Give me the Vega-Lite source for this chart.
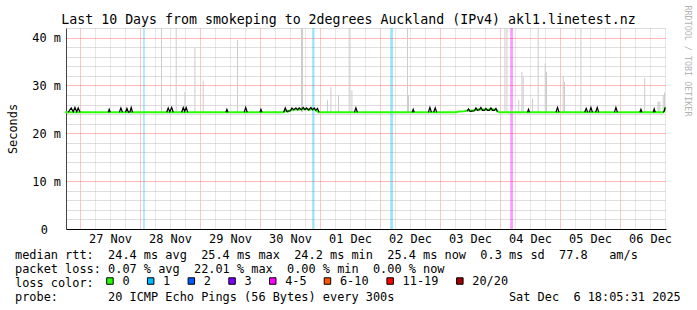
{
  "$schema": "https://vega.github.io/schema/vega-lite/v6.json",
  "autosize": "none",
  "width": 600,
  "height": 201,
  "padding": {"left": 66, "top": 28, "right": 31, "bottom": 81},
  "background": "#ffffff",
  "config": {"view": {"stroke": null}, "font": "DejaVu Sans Mono"},
  "title": {
    "text": "Last 10 Days from smokeping to 2degrees Auckland (IPv4) akl1.linetest.nz",
    "font": "DejaVu Sans Mono", "fontSize": 13.25, "fontWeight": "normal", "color": "#000000",
    "anchor": "middle", "frame": "bounds", "baseline": "alphabetic", "offset": 4, "dy": 36
  },
  "datasets": {
    "bands": [
      {"t": "2025-11-28T01:17:00Z", "t1": "2025-11-28T01:53:00Z", "loss": "1"},
      {"t": "2025-11-30T20:53:00Z", "t1": "2025-11-30T21:48:00Z", "loss": "1"},
      {"t": "2025-12-02T04:05:00Z", "t1": "2025-12-02T05:10:00Z", "loss": "1"},
      {"t": "2025-12-04T04:05:00Z", "t1": "2025-12-04T05:10:00Z", "loss": "4-5"}
    ],
    "smoke": [
      {"t": "2025-11-28T08:36:00Z", "lo": 24.4, "hi": 42},
      {"t": "2025-11-28T14:29:00Z", "lo": 24.4, "hi": 42},
      {"t": "2025-11-28T17:58:00Z", "lo": 24.4, "hi": 28.6},
      {"t": "2025-11-28T21:58:00Z", "lo": 24.4, "hi": 38},
      {"t": "2025-11-29T01:17:00Z", "lo": 24.4, "hi": 31},
      {"t": "2025-11-29T15:00:00Z", "lo": 24.4, "hi": 39.5},
      {"t": "2025-11-30T16:36:00Z", "lo": 24.4, "hi": 42},
      {"t": "2025-11-30T17:00:00Z", "lo": 24.4, "hi": 42},
      {"t": "2025-12-01T03:00:00Z", "lo": 24.4, "hi": 27},
      {"t": "2025-12-01T04:22:00Z", "lo": 24.4, "hi": 29.6},
      {"t": "2025-12-01T07:24:00Z", "lo": 24.4, "hi": 28},
      {"t": "2025-12-01T11:41:00Z", "lo": 24.4, "hi": 42},
      {"t": "2025-12-01T12:46:00Z", "lo": 24.4, "hi": 29},
      {"t": "2025-12-02T11:00:00Z", "lo": 24.4, "hi": 42},
      {"t": "2025-12-02T11:24:00Z", "lo": 24.4, "hi": 28},
      {"t": "2025-12-04T01:58:00Z", "lo": 24.4, "hi": 42},
      {"t": "2025-12-04T02:46:00Z", "lo": 24.4, "hi": 42},
      {"t": "2025-12-04T07:29:00Z", "lo": 24.4, "hi": 27},
      {"t": "2025-12-04T08:46:00Z", "lo": 24.4, "hi": 32.8},
      {"t": "2025-12-04T09:17:00Z", "lo": 24.4, "hi": 31.8},
      {"t": "2025-12-04T13:00:00Z", "lo": 24.4, "hi": 27.3},
      {"t": "2025-12-04T15:17:00Z", "lo": 24.4, "hi": 42},
      {"t": "2025-12-04T18:05:00Z", "lo": 24.4, "hi": 34.6},
      {"t": "2025-12-04T18:36:00Z", "lo": 24.4, "hi": 32.8},
      {"t": "2025-12-05T01:17:00Z", "lo": 24.4, "hi": 32},
      {"t": "2025-12-05T01:48:00Z", "lo": 24.4, "hi": 30.7},
      {"t": "2025-12-05T08:22:00Z", "lo": 24.4, "hi": 42},
      {"t": "2025-12-06T09:53:00Z", "lo": 24.4, "hi": 31.5},
      {"t": "2025-12-06T15:10:00Z", "lo": 24.4, "hi": 26.6},
      {"t": "2025-12-06T15:34:00Z", "lo": 24.4, "hi": 26.6},
      {"t": "2025-12-06T15:58:00Z", "lo": 24.4, "hi": 26.6},
      {"t": "2025-12-06T17:17:00Z", "lo": 24.4, "hi": 28},
      {"t": "2025-12-06T17:48:00Z", "lo": 24.4, "hi": 28.5}
    ],
    "median": [
      {"t": "2025-11-26T18:05:00Z", "v": 24.4},
      {"t": "2025-11-30T09:29:00Z", "v": 24.4},
      {"t": "2025-11-30T10:05:00Z", "v": 24.8},
      {"t": "2025-11-30T11:00:00Z", "v": 24.5},
      {"t": "2025-11-30T12:46:00Z", "v": 24.9},
      {"t": "2025-11-30T14:22:00Z", "v": 25.0},
      {"t": "2025-11-30T15:41:00Z", "v": 24.9},
      {"t": "2025-11-30T16:30:00Z", "v": 25.1},
      {"t": "2025-11-30T17:17:00Z", "v": 25.0},
      {"t": "2025-11-30T18:36:00Z", "v": 25.1},
      {"t": "2025-11-30T19:30:00Z", "v": 24.9},
      {"t": "2025-11-30T20:22:00Z", "v": 25.0},
      {"t": "2025-11-30T21:41:00Z", "v": 25.0},
      {"t": "2025-11-30T22:20:00Z", "v": 24.8},
      {"t": "2025-11-30T23:36:00Z", "v": 24.4},
      {"t": "2025-12-03T06:22:00Z", "v": 24.4},
      {"t": "2025-12-03T07:30:00Z", "v": 24.55},
      {"t": "2025-12-03T09:41:00Z", "v": 24.6},
      {"t": "2025-12-03T11:24:00Z", "v": 24.8},
      {"t": "2025-12-03T13:00:00Z", "v": 24.7},
      {"t": "2025-12-03T14:22:00Z", "v": 24.9},
      {"t": "2025-12-03T16:22:00Z", "v": 25.0},
      {"t": "2025-12-03T18:22:00Z", "v": 24.9},
      {"t": "2025-12-03T20:22:00Z", "v": 25.0},
      {"t": "2025-12-03T22:22:00Z", "v": 24.9},
      {"t": "2025-12-03T23:41:00Z", "v": 24.4},
      {"t": "2025-12-06T17:17:00Z", "v": 24.4},
      {"t": "2025-12-06T17:41:00Z", "v": 24.6},
      {"t": "2025-12-06T18:05:00Z", "v": 25.4}
    ],
    "dark": [
      {"g": 1, "t": "2025-11-26T19:17:00Z", "v": 24.4},
      {"g": 1, "t": "2025-11-26T20:29:00Z", "v": 25.3},
      {"g": 1, "t": "2025-11-26T21:17:00Z", "v": 24.5},
      {"g": 1, "t": "2025-11-26T21:58:00Z", "v": 25.4},
      {"g": 1, "t": "2025-11-26T22:41:00Z", "v": 24.5},
      {"g": 1, "t": "2025-11-26T23:17:00Z", "v": 25.3},
      {"g": 1, "t": "2025-11-27T00:00:00Z", "v": 24.4},
      {"g": 2, "t": "2025-11-27T11:17:00Z", "v": 24.4},
      {"g": 2, "t": "2025-11-27T11:41:00Z", "v": 25.0},
      {"g": 2, "t": "2025-11-27T12:05:00Z", "v": 24.4},
      {"g": 3, "t": "2025-11-27T15:44:00Z", "v": 24.4},
      {"g": 3, "t": "2025-11-27T16:22:00Z", "v": 25.3},
      {"g": 3, "t": "2025-11-27T17:00:00Z", "v": 24.4},
      {"g": 4, "t": "2025-11-27T18:10:00Z", "v": 24.4},
      {"g": 4, "t": "2025-11-27T18:46:00Z", "v": 25.2},
      {"g": 4, "t": "2025-11-27T19:25:00Z", "v": 24.4},
      {"g": 4, "t": "2025-11-27T20:00:00Z", "v": 24.5},
      {"g": 4, "t": "2025-11-27T20:29:00Z", "v": 25.4},
      {"g": 4, "t": "2025-11-27T21:00:00Z", "v": 24.4},
      {"g": 5, "t": "2025-11-28T10:41:00Z", "v": 24.4},
      {"g": 5, "t": "2025-11-28T11:17:00Z", "v": 25.3},
      {"g": 5, "t": "2025-11-28T11:55:00Z", "v": 24.5},
      {"g": 5, "t": "2025-11-28T12:41:00Z", "v": 25.4},
      {"g": 5, "t": "2025-11-28T13:17:00Z", "v": 24.4},
      {"g": 6, "t": "2025-11-28T16:41:00Z", "v": 24.4},
      {"g": 6, "t": "2025-11-28T17:17:00Z", "v": 25.4},
      {"g": 6, "t": "2025-11-28T17:53:00Z", "v": 24.6},
      {"g": 6, "t": "2025-11-28T18:29:00Z", "v": 25.4},
      {"g": 6, "t": "2025-11-28T19:05:00Z", "v": 24.4},
      {"g": 7, "t": "2025-11-29T10:22:00Z", "v": 24.4},
      {"g": 7, "t": "2025-11-29T10:46:00Z", "v": 25.0},
      {"g": 7, "t": "2025-11-29T11:10:00Z", "v": 24.4},
      {"g": 8, "t": "2025-11-29T17:41:00Z", "v": 24.4},
      {"g": 8, "t": "2025-11-29T18:17:00Z", "v": 25.4},
      {"g": 8, "t": "2025-11-29T18:53:00Z", "v": 24.4},
      {"g": 9, "t": "2025-11-30T00:00:00Z", "v": 24.4},
      {"g": 9, "t": "2025-11-30T00:22:00Z", "v": 25.0},
      {"g": 9, "t": "2025-11-30T00:46:00Z", "v": 24.4},
      {"g": 10, "t": "2025-11-30T09:29:00Z", "v": 24.4},
      {"g": 10, "t": "2025-11-30T10:05:00Z", "v": 25.3},
      {"g": 10, "t": "2025-11-30T10:41:00Z", "v": 24.6},
      {"g": 10, "t": "2025-11-30T12:10:00Z", "v": 24.7},
      {"g": 10, "t": "2025-11-30T12:46:00Z", "v": 25.3},
      {"g": 10, "t": "2025-11-30T13:30:00Z", "v": 24.9},
      {"g": 10, "t": "2025-11-30T14:22:00Z", "v": 25.3},
      {"g": 10, "t": "2025-11-30T15:00:00Z", "v": 24.9},
      {"g": 10, "t": "2025-11-30T15:41:00Z", "v": 25.3},
      {"g": 10, "t": "2025-11-30T16:30:00Z", "v": 24.9},
      {"g": 10, "t": "2025-11-30T17:17:00Z", "v": 25.4},
      {"g": 10, "t": "2025-11-30T18:00:00Z", "v": 24.9},
      {"g": 10, "t": "2025-11-30T18:36:00Z", "v": 25.3},
      {"g": 10, "t": "2025-11-30T19:30:00Z", "v": 24.9},
      {"g": 10, "t": "2025-11-30T20:22:00Z", "v": 25.4},
      {"g": 10, "t": "2025-11-30T21:00:00Z", "v": 24.9},
      {"g": 10, "t": "2025-11-30T21:41:00Z", "v": 25.3},
      {"g": 10, "t": "2025-11-30T22:20:00Z", "v": 24.8},
      {"g": 10, "t": "2025-11-30T23:00:00Z", "v": 25.2},
      {"g": 10, "t": "2025-11-30T23:36:00Z", "v": 24.4},
      {"g": 11, "t": "2025-12-01T13:46:00Z", "v": 24.4},
      {"g": 11, "t": "2025-12-01T14:22:00Z", "v": 25.3},
      {"g": 11, "t": "2025-12-01T14:58:00Z", "v": 24.4},
      {"g": 12, "t": "2025-12-02T12:53:00Z", "v": 24.4},
      {"g": 12, "t": "2025-12-02T13:17:00Z", "v": 25.0},
      {"g": 12, "t": "2025-12-02T13:41:00Z", "v": 24.4},
      {"g": 13, "t": "2025-12-02T19:22:00Z", "v": 24.4},
      {"g": 13, "t": "2025-12-02T19:58:00Z", "v": 25.4},
      {"g": 13, "t": "2025-12-02T20:34:00Z", "v": 24.4},
      {"g": 14, "t": "2025-12-02T21:29:00Z", "v": 24.4},
      {"g": 14, "t": "2025-12-02T22:05:00Z", "v": 25.3},
      {"g": 14, "t": "2025-12-02T22:41:00Z", "v": 24.4},
      {"g": 15, "t": "2025-12-03T10:50:00Z", "v": 24.6},
      {"g": 15, "t": "2025-12-03T11:24:00Z", "v": 25.1},
      {"g": 15, "t": "2025-12-03T12:00:00Z", "v": 24.6},
      {"g": 15, "t": "2025-12-03T13:46:00Z", "v": 24.7},
      {"g": 15, "t": "2025-12-03T14:22:00Z", "v": 25.3},
      {"g": 15, "t": "2025-12-03T15:00:00Z", "v": 24.8},
      {"g": 15, "t": "2025-12-03T15:46:00Z", "v": 24.9},
      {"g": 15, "t": "2025-12-03T16:22:00Z", "v": 25.4},
      {"g": 15, "t": "2025-12-03T17:00:00Z", "v": 24.8},
      {"g": 15, "t": "2025-12-03T17:46:00Z", "v": 24.8},
      {"g": 15, "t": "2025-12-03T18:22:00Z", "v": 25.2},
      {"g": 15, "t": "2025-12-03T19:00:00Z", "v": 24.8},
      {"g": 15, "t": "2025-12-03T19:46:00Z", "v": 24.8},
      {"g": 15, "t": "2025-12-03T20:22:00Z", "v": 25.3},
      {"g": 15, "t": "2025-12-03T21:00:00Z", "v": 24.8},
      {"g": 15, "t": "2025-12-03T21:46:00Z", "v": 24.8},
      {"g": 15, "t": "2025-12-03T22:22:00Z", "v": 25.2},
      {"g": 15, "t": "2025-12-03T23:00:00Z", "v": 24.5},
      {"g": 16, "t": "2025-12-04T11:00:00Z", "v": 24.4},
      {"g": 16, "t": "2025-12-04T11:24:00Z", "v": 25.0},
      {"g": 16, "t": "2025-12-04T11:48:00Z", "v": 24.4},
      {"g": 17, "t": "2025-12-04T22:24:00Z", "v": 24.4},
      {"g": 17, "t": "2025-12-04T23:00:00Z", "v": 25.4},
      {"g": 17, "t": "2025-12-04T23:36:00Z", "v": 24.4},
      {"g": 18, "t": "2025-12-05T09:53:00Z", "v": 24.4},
      {"g": 18, "t": "2025-12-05T10:29:00Z", "v": 25.2},
      {"g": 18, "t": "2025-12-05T11:05:00Z", "v": 24.4},
      {"g": 19, "t": "2025-12-05T11:46:00Z", "v": 24.4},
      {"g": 19, "t": "2025-12-05T12:22:00Z", "v": 25.4},
      {"g": 19, "t": "2025-12-05T12:58:00Z", "v": 24.4},
      {"g": 20, "t": "2025-12-05T14:17:00Z", "v": 24.4},
      {"g": 20, "t": "2025-12-05T14:53:00Z", "v": 25.4},
      {"g": 20, "t": "2025-12-05T15:29:00Z", "v": 24.4},
      {"g": 21, "t": "2025-12-05T21:46:00Z", "v": 24.4},
      {"g": 21, "t": "2025-12-05T22:22:00Z", "v": 25.4},
      {"g": 21, "t": "2025-12-05T22:58:00Z", "v": 24.4},
      {"g": 22, "t": "2025-12-06T07:58:00Z", "v": 24.4},
      {"g": 22, "t": "2025-12-06T08:22:00Z", "v": 25.0},
      {"g": 22, "t": "2025-12-06T08:46:00Z", "v": 24.4},
      {"g": 23, "t": "2025-12-06T13:17:00Z", "v": 24.4},
      {"g": 23, "t": "2025-12-06T13:41:00Z", "v": 25.1},
      {"g": 23, "t": "2025-12-06T14:05:00Z", "v": 24.4},
      {"g": 24, "t": "2025-12-06T17:17:00Z", "v": 24.4},
      {"g": 24, "t": "2025-12-06T17:41:00Z", "v": 24.6},
      {"g": 24, "t": "2025-12-06T18:05:00Z", "v": 25.4}
    ]
  },
  "resolve": {"axis": {"y": "independent"}},
  "encoding": {
    "x": {
      "field": "t", "type": "temporal",
      "scale": {"type": "utc", "nice": false, "domain": [{"year": 2025, "month": 11, "date": 26, "hours": 18, "minutes": 24, "utc": true}, {"year": 2025, "month": 12, "date": 6, "hours": 18, "minutes": 24, "utc": true}]},
      "title": [
        "median rtt:\u00a0\u00a024.4 ms avg\u00a0\u00a025.4 ms max\u00a0\u00a024.2 ms min\u00a0\u00a025.4 ms now\u00a0\u00a00.3 ms sd\u00a0\u00a077.8\u00a0\u00a0\u00a0am/s",
        "packet loss: 0.07 % avg\u00a0\u00a022.01 % max\u00a0\u00a00.00 % min\u00a0\u00a00.00 % now",
        "loss color:",
        "probe:\u00a0\u00a0\u00a0\u00a0\u00a0\u00a0\u00a020 ICMP Echo Pings (56 Bytes) every 300s\u00a0\u00a0\u00a0\u00a0\u00a0\u00a0\u00a0\u00a0\u00a0\u00a0\u00a0\u00a0\u00a0\u00a0\u00a0\u00a0Sat Dec\u00a0\u00a06 18:05:31 2025"
      ],
      "axis": {
        "values": [
          {"year": 2025, "month": 11, "date": 27, "hours": 0, "utc": true},
          {"year": 2025, "month": 11, "date": 27, "hours": 6, "utc": true},
          {"year": 2025, "month": 11, "date": 27, "hours": 12, "utc": true},
          {"year": 2025, "month": 11, "date": 27, "hours": 18, "utc": true},
          {"year": 2025, "month": 11, "date": 28, "hours": 0, "utc": true},
          {"year": 2025, "month": 11, "date": 28, "hours": 6, "utc": true},
          {"year": 2025, "month": 11, "date": 28, "hours": 12, "utc": true},
          {"year": 2025, "month": 11, "date": 28, "hours": 18, "utc": true},
          {"year": 2025, "month": 11, "date": 29, "hours": 0, "utc": true},
          {"year": 2025, "month": 11, "date": 29, "hours": 6, "utc": true},
          {"year": 2025, "month": 11, "date": 29, "hours": 12, "utc": true},
          {"year": 2025, "month": 11, "date": 29, "hours": 18, "utc": true},
          {"year": 2025, "month": 11, "date": 30, "hours": 0, "utc": true},
          {"year": 2025, "month": 11, "date": 30, "hours": 6, "utc": true},
          {"year": 2025, "month": 11, "date": 30, "hours": 12, "utc": true},
          {"year": 2025, "month": 11, "date": 30, "hours": 18, "utc": true},
          {"year": 2025, "month": 12, "date": 1, "hours": 0, "utc": true},
          {"year": 2025, "month": 12, "date": 1, "hours": 6, "utc": true},
          {"year": 2025, "month": 12, "date": 1, "hours": 12, "utc": true},
          {"year": 2025, "month": 12, "date": 1, "hours": 18, "utc": true},
          {"year": 2025, "month": 12, "date": 2, "hours": 0, "utc": true},
          {"year": 2025, "month": 12, "date": 2, "hours": 6, "utc": true},
          {"year": 2025, "month": 12, "date": 2, "hours": 12, "utc": true},
          {"year": 2025, "month": 12, "date": 2, "hours": 18, "utc": true},
          {"year": 2025, "month": 12, "date": 3, "hours": 0, "utc": true},
          {"year": 2025, "month": 12, "date": 3, "hours": 6, "utc": true},
          {"year": 2025, "month": 12, "date": 3, "hours": 12, "utc": true},
          {"year": 2025, "month": 12, "date": 3, "hours": 18, "utc": true},
          {"year": 2025, "month": 12, "date": 4, "hours": 0, "utc": true},
          {"year": 2025, "month": 12, "date": 4, "hours": 6, "utc": true},
          {"year": 2025, "month": 12, "date": 4, "hours": 12, "utc": true},
          {"year": 2025, "month": 12, "date": 4, "hours": 18, "utc": true},
          {"year": 2025, "month": 12, "date": 5, "hours": 0, "utc": true},
          {"year": 2025, "month": 12, "date": 5, "hours": 6, "utc": true},
          {"year": 2025, "month": 12, "date": 5, "hours": 12, "utc": true},
          {"year": 2025, "month": 12, "date": 5, "hours": 18, "utc": true},
          {"year": 2025, "month": 12, "date": 6, "hours": 0, "utc": true},
          {"year": 2025, "month": 12, "date": 6, "hours": 6, "utc": true},
          {"year": 2025, "month": 12, "date": 6, "hours": 12, "utc": true},
          {"year": 2025, "month": 12, "date": 6, "hours": 18, "utc": true}
        ],
        "grid": true,
        "gridColor": {"condition": {"test": "utchours(datum.value) === 0", "value": "#ff8c8c"}, "value": "#cfcfcf"},
        "gridOpacity": 1,
        "gridDash": [1, 1], "gridWidth": 1,
        "ticks": false, "domain": true, "domainColor": "#000000", "domainWidth": 1,
        "labelExpr": "utchours(datum.value) === 12 ? utcFormat(datum.value, '%d %b') : ''",
        "labelFont": "DejaVu Sans Mono", "labelFontSize": 11.9, "labelColor": "#000000", "labelPadding": 4,
        "labelOverlap": false, "labelFlush": false, "labelBound": false, "labelAngle": 0,
        "titleFont": "DejaVu Sans Mono", "titleFontSize": 11.9, "titleFontWeight": "normal", "titleColor": "#000000",
        "titleAlign": "left", "titleAnchor": "start", "titleBaseline": "alphabetic",
        "titleX": -51.5, "titleY": 29, "titleLineHeight": 14
      }
    }
  },
  "layer": [
    {
      "data": {"name": "bands"},
      "mark": {"type": "rect", "opacity": 0.4},
      "encoding": {
        "x2": {"field": "t1"},
        "y": {"datum": 0, "type": "quantitative", "axis": null, "scale": {"domain": [0, 42], "nice": false, "zero": false}},
        "y2": {"datum": 42},
        "color": {
          "field": "loss", "type": "nominal",
          "scale": {"domain": ["0", "1", "2", "3", "4-5", "6-10", "11-19", "20/20"],
                    "range": ["#26ff00", "#00b8ff", "#0059ff", "#7e00ff", "#ff00ff", "#ff5500", "#ff0000", "#a10000"]},
          "legend": {
            "orient": "none", "legendX": 38, "legendY": 247, "direction": "horizontal", "columns": 8,
            "title": null, "padding": 0, "symbolType": "square", "symbolSize": 42,
            "symbolStrokeColor": "#000000", "symbolStrokeWidth": 1, "symbolOpacity": 1,
            "labelFont": "DejaVu Sans Mono", "labelFontSize": 11.9, "labelColor": "#000000",
            "labelOffset": 6.5, "columnPadding": 14.7, "labelLimit": 300
          }
        }
      }
    },
    {
      "data": {"name": "smoke"},
      "mark": {"type": "rule", "color": "#cccccc", "strokeWidth": 1},
      "encoding": {
        "y": {"field": "lo", "type": "quantitative", "scale": {"domain": [0, 42], "nice": false, "zero": false},
              "axis": {"orient": "right", "labels": false, "ticks": false, "domain": false, "grid": false,
                       "title": "RRDTOOL / TOBI OETIKER", "titleFont": "DejaVu Sans Mono", "titleFontSize": 8.4,
                       "titleFontWeight": "normal", "titleColor": "#b4b4b4", "titleAngle": 90, "titleAlign": "left",
                       "titleBaseline": "middle", "titleX": 21, "titleY": -23}},
        "y2": {"field": "hi"}
      }
    },
    {
      "data": {"name": "median"},
      "mark": {"type": "line", "color": "#26ff00", "strokeWidth": 2},
      "encoding": {
        "y": {"field": "v", "type": "quantitative", "scale": {"domain": [0, 42], "nice": false, "zero": false},
              "title": "Seconds",
              "axis": {
                "values": [0, 2, 4, 6, 8, 10, 12, 14, 16, 18, 20, 22, 24, 26, 28, 30, 32, 34, 36, 38, 40, 42],
                "grid": true,
                "gridColor": {"condition": {"test": "datum.value % 10 === 0", "value": "#ff6e6e"}, "value": "#bdbdbd"},
                "gridOpacity": {"condition": {"test": "datum.value === 0", "value": 0}, "value": 1},
                "gridDash": [1, 1], "gridWidth": 1,
                "ticks": false, "domain": true, "domainColor": "#444444", "domainWidth": 1,
                "labelExpr": "datum.value % 10 === 0 ? datum.value + (datum.value === 0 ? '' : ' m') : ''",
                "labelFont": "DejaVu Sans Mono", "labelFontSize": 11.9, "labelColor": "#000000",
                "labelPadding": {"condition": {"test": "datum.value === 0", "value": 18.5}, "value": 5.5},
                "labelOverlap": false, "labelFlush": false, "labelBound": false,
                "titleFont": "DejaVu Sans Mono", "titleFontSize": 11.9, "titleFontWeight": "normal", "titleColor": "#000000",
                "titleX": -54, "titleY": 100.5, "titleAngle": 270, "titleAlign": "center", "titleBaseline": "middle"
              }}
      }
    },
    {
      "data": {"name": "dark"},
      "mark": {"type": "line", "color": "#000000", "strokeWidth": 1.2},
      "encoding": {
        "y": {"field": "v", "type": "quantitative", "axis": null, "scale": {"domain": [0, 42], "nice": false, "zero": false}},
        "detail": {"field": "g", "type": "nominal"}
      }
    }
  ]
}
